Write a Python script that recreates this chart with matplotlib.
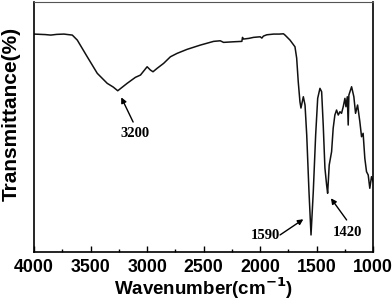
import matplotlib
matplotlib.use("Agg")
import matplotlib.pyplot as plt
import numpy as np

# Spectrum trace (wavenumber in cm-1, transmittance in arbitrary units)
wavenumber = [4000, 3900, 3853, 3800, 3736, 3700, 3662, 3618, 3530, 3441, 3353, 3300,
              3260, 3177, 3104, 3059, 3000, 2971, 2948, 2912, 2854, 2794, 2735, 2647,
              2529, 2412, 2353, 2324, 2235, 2162, 2156, 2150, 2100, 2059, 2000, 1985,
              1971, 1941, 1880, 1830, 1794, 1780, 1736, 1692, 1677, 1663, 1648, 1639,
              1618, 1603, 1588, 1568, 1550, 1530, 1509, 1491, 1471, 1456, 1442, 1427,
              1412, 1403, 1389, 1368, 1354, 1339, 1324, 1309, 1294, 1280, 1265, 1250,
              1241, 1229, 1221, 1215, 1191, 1171, 1156, 1138, 1118, 1103, 1089, 1074,
              1059, 1044, 1030, 1015, 1000]
depth = [34, 34.5, 35, 34.3, 34, 34.5, 35, 40, 56.7, 73.3, 83.3, 87,
         90.7, 83.3, 77.3, 75, 66.7, 70, 71.7, 68.3, 63.3, 56.7, 53.3, 49.3,
         45, 41.3, 40.7, 42.3, 41.7, 41.3, 37.3, 39, 38.3, 37.3, 36.7, 38,
         36, 34.7, 34, 34, 33.7, 35, 40, 46.7, 58, 81.7, 101.7, 108,
         96.7, 105, 135, 191.7, 235, 191.7, 135, 98.3, 88.3, 91.7, 125, 168,
         185, 193.3, 165, 151.7, 128.3, 115, 110, 115, 111.7, 113.3, 106.7, 98.3,
         106.7, 96.7, 125, 95, 86.7, 96.7, 113.3, 105, 121.7, 136.7, 133.3, 158.3,
         171.7, 175, 188.3, 176.7, 181.7]
transmittance = [251.7 - d for d in depth]

xticks = [4000, 3500, 3000, 2500, 2000, 1500, 1000]
peak_labels = ["3200", "1590", "1420"]

# annotation geometry (wavenumber, transmittance)
peak_tips = [(3229, 251.7 - 97.3), (1618, 251.7 - 219.3), (1374, 251.7 - 198.3)]
peak_tails = [(3124, 251.7 - 122), (1824, 251.7 - 235), (1235, 251.7 - 220)]
peak_text = [(3103, 251.7 - 133), (1956, 251.7 - 236), (1224, 251.7 - 233)]

fig = plt.figure(figsize=(3.92, 3.01), dpi=100)
ax = fig.add_axes([0.087, 0.164, 0.865, 0.829])
ax.plot(wavenumber, transmittance, color="#111111", lw=1.1)
ax.set_xlim(4000, 1000)
ax.set_ylim(0, 249.7)
ax.set_xticks(xticks)
ax.set_xticks(np.arange(1000, 4001, 250), minor=True)
ax.set_xticklabels([str(t) for t in xticks], fontsize=12.8, fontweight="bold",
                   family="Liberation Sans")
ax.set_yticks([])
ax.tick_params(axis="x", which="major", direction="in", length=4, width=1, pad=5)
ax.tick_params(axis="x", which="minor", direction="in", length=2, width=1)
for s in ax.spines.values():
    s.set_linewidth(1.2)
ax.spines["top"].set_linewidth(0.8)
ax.spines["top"].set_color("#555555")

ax.set_xlabel("Wavenumber(cm$^{\\mathbf{-1}}$)", fontsize=13.5, fontweight="bold",
              family="Liberation Sans", labelpad=0)
ax.set_ylabel("Transmittance(%)", fontsize=15, fontweight="bold",
              family="Liberation Sans")
ax.yaxis.set_label_coords(-0.04, 0.55)

for lab, tip, tail, txt in zip(peak_labels, peak_tips, peak_tails, peak_text):
    ax.annotate("", xy=tip, xytext=tail,
                arrowprops=dict(arrowstyle="-|>", color="black", lw=1,
                                mutation_scale=8, shrinkA=0, shrinkB=0))
    ax.text(txt[0], txt[1], lab, ha="center", va="center",
            fontsize=10.5, fontweight="bold", family="Liberation Serif")

fig.savefig("out.png", dpi=100)
